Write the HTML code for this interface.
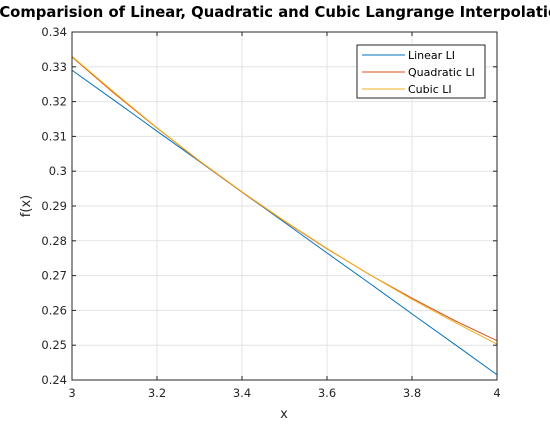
<!DOCTYPE html>
<html><head><meta charset="utf-8"><style>body{margin:0;background:#fff;overflow:hidden}svg{display:block;font-family:"DejaVu Sans","Liberation Sans",sans-serif}</style></head>
<body>
<svg id="chart" width="550" height="427">
<text x="284" y="17" text-anchor="middle" font-size="14.8" font-weight="bold" fill="#000">Comparision of Linear, Quadratic and Cubic Langrange Interpolation</text>
<g id="grid"></g><g id="series"></g><g id="axes"></g>
<text x="284" y="418" text-anchor="middle" font-size="13" fill="#262626">x</text>
<text transform="translate(30,206) rotate(-90)" text-anchor="middle" font-size="13" fill="#262626">f(x)</text>
<g>
<rect x="357" y="45" width="128" height="53" fill="#fff" stroke="#262626" stroke-width="1"/>
<g><line x1="362" y1="55" x2="405" y2="55" stroke="#0072BD"/><text x="408" y="59" font-size="11" fill="#000">Linear LI</text></g>
<g><line x1="362" y1="72" x2="405" y2="72" stroke="#D95319"/><text x="408" y="76" font-size="11" fill="#000">Quadratic LI</text></g>
<g><line x1="362" y1="89" x2="405" y2="89" stroke="#EDB120"/><text x="408" y="93" font-size="11" fill="#000">Cubic LI</text></g>
</g>
</svg>
<script>
const xValues=[3,3.1,3.2,3.3,3.4,3.5,3.6,3.7,3.8,3.9,4];
const linearValues=[0.329,0.3203,0.3115,0.3028,0.294,0.2853,0.2765,0.2678,0.259,0.2503,0.2415];
const quadraticValues=[0.3328,0.3223,0.3124,0.3029,0.294,0.2856,0.2777,0.2703,0.2635,0.2571,0.2513];
const cubicValues=[0.333,0.3226,0.3125,0.303,0.2941,0.2857,0.2778,0.2703,0.2632,0.2566,0.2503];
const xTicks=[3,3.2,3.4,3.6,3.8,4];
const yTicks=[0.24,0.25,0.26,0.27,0.28,0.29,0.3,0.31,0.32,0.33,0.34];
const L=72,R=497,T=32,B=380,NS="http://www.w3.org/2000/svg";
const xs=v=>L+(v-3)/(4-3)*(R-L);
const ys=v=>B-(v-0.24)/(0.34-0.24)*(B-T);
function mk(tag,attrs,parent,txt){const e=document.createElementNS(NS,tag);for(const k in attrs)e.setAttribute(k,attrs[k]);if(txt!==undefined)e.textContent=txt;parent.appendChild(e);return e;}
const grid=document.getElementById('grid'),axes=document.getElementById('axes'),ser=document.getElementById('series');
xTicks.forEach(t=>{const x=xs(t);
 const g=mk('line',{x1:x,x2:x,y1:T,y2:B,stroke:'#e3e3e3'},grid);
 
 
 mk('line',{x1:x,x2:x,y1:B,y2:B-4,stroke:'#262626'},axes);mk('line',{x1:x,x2:x,y1:T,y2:T+4,stroke:'#262626'},axes);
 const tl=mk('text',{x:x,y:B+17,'text-anchor':'middle','font-size':11.5,fill:'#262626'},axes,String(t));
 
 });
yTicks.forEach(t=>{const y=ys(t);
 const g=mk('line',{x1:L,x2:R,y1:y,y2:y,stroke:'#e3e3e3'},grid);
 
 
 mk('line',{x1:L,x2:L+4,y1:y,y2:y,stroke:'#262626'},axes);mk('line',{x1:R,x2:R-4,y1:y,y2:y,stroke:'#262626'},axes);
 const tl=mk('text',{x:L-5,y:y+4,'text-anchor':'end','font-size':11.5,fill:'#262626'},axes,String(t));
 
 });
const box=mk('rect',{x:L,y:T,width:R-L,height:B-T,fill:'none',stroke:'#262626'},axes);


[[linearValues,'#0072BD','series-linear'],[quadraticValues,'#D95319','series-quadratic'],[cubicValues,'#EDB120','series-cubic']].forEach(([vals,c,n])=>{
 const p=mk('polyline',{points:vals.map((v,i)=>xs(xValues[i])+','+ys(v)).join(' '),fill:'none',stroke:c,'stroke-width':1},ser);
 
 });
</script>
</body></html>
